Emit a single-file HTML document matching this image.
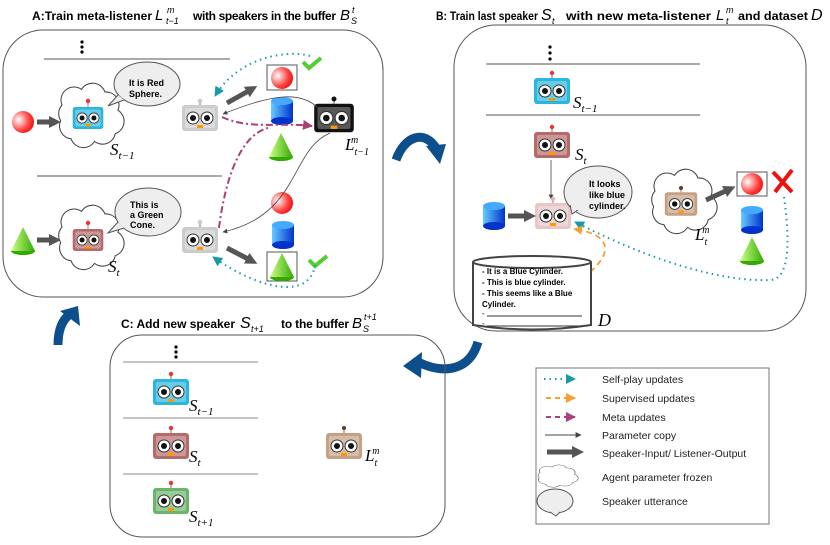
<!DOCTYPE html>
<html><head><meta charset="utf-8"><style>
html,body{margin:0;padding:0;background:#fff}
svg{display:block}
text{font-family:"Liberation Sans",sans-serif}
.m{font-family:"Liberation Serif",serif;font-style:italic}
.b{font-weight:bold}
</style></head><body>
<svg width="830" height="545" viewBox="0 0 830 545" xmlns="http://www.w3.org/2000/svg">
<defs>
<radialGradient id="gs" cx="0.3" cy="0.4" r="0.8"><stop offset="0" stop-color="#fff"/><stop offset="0.6" stop-color="#f44"/><stop offset="1" stop-color="#e00"/></radialGradient>
<linearGradient id="gc" x1="0" x2="1"><stop offset="0" stop-color="#6cf"/><stop offset="1" stop-color="#03c"/></linearGradient>
<linearGradient id="gn" x1="0" x2="1"><stop offset="0" stop-color="#cf8"/><stop offset="1" stop-color="#3a0"/></linearGradient>
<g id="robot">
<line x1="0" y1="-13" x2="0" y2="-18" stroke="#888" stroke-width="1.2"/>
<rect x="-18" y="-13" width="36" height="26" rx="3" fill="currentColor"/>
<rect x="-15" y="-10" width="30" height="20" rx="2" fill="#fff" opacity="0.3"/>
<circle cx="-7" cy="0" r="6" fill="#fff" stroke="#333" stroke-width="1"/>
<circle cx="7" cy="0" r="6" fill="#fff" stroke="#333" stroke-width="1"/>
<circle cx="-7" cy="0" r="3" fill="#111"/><circle cx="7" cy="0" r="3" fill="#111"/>
<rect x="-3" y="7" width="6" height="3" fill="#f90"/>
</g>
<path id="cloud" d="M -20,-10 a10,10 0 0 1 15,-12 a10,10 0 0 1 18,2 a10,10 0 0 1 10,14 a10,10 0 0 1 -2,18 a10,10 0 0 1 -16,6 a10,10 0 0 1 -18,-2 a10,10 0 0 1 -8,-14 a10,10 0 0 1 1,-12 z" fill="#fff" stroke="#444" stroke-width="0.8"/>
<g id="sph"><circle r="11" fill="url(#gs)"/></g>
<g id="cyl"><rect x="-11" y="-9" width="22" height="20" fill="url(#gc)"/><ellipse cx="0" cy="11" rx="11" ry="4" fill="#03c"/><ellipse cx="0" cy="-9" rx="11" ry="4" fill="#4af"/></g>
<g id="cone"><ellipse cx="0" cy="11" rx="12" ry="4" fill="#3a0"/><path d="M0,-13 L-12,11 L12,11 Z" fill="url(#gn)"/></g>
<marker id="ha" viewBox="0 0 10 10" refX="9" refY="5" markerWidth="6" markerHeight="6" orient="auto"><path d="M0,0 L10,5 L0,10 z" fill="#444"/></marker>
<marker id="hc" viewBox="0 0 10 10" refX="9" refY="5" markerWidth="5" markerHeight="5" orient="auto"><path d="M0,0 L10,5 L0,10 z" fill="#1a9aa8"/></marker>
<marker id="hm" viewBox="0 0 10 10" refX="9" refY="5" markerWidth="5" markerHeight="5" orient="auto"><path d="M0,0 L10,5 L0,10 z" fill="#a8407a"/></marker>
<marker id="ho" viewBox="0 0 10 10" refX="9" refY="5" markerWidth="5" markerHeight="5" orient="auto"><path d="M0,0 L10,5 L0,10 z" fill="#f5a030"/></marker>
<marker id="hb" viewBox="0 0 10 10" refX="5" refY="5" markerWidth="2.4" markerHeight="2.4" orient="auto"><path d="M0,0 L10,5 L0,10 z" fill="#555"/></marker>
</defs>

<!-- Titles -->
<g font-size="12" class="b">
<text x="32" y="20" textLength="120" lengthAdjust="spacing">A:Train meta-listener</text>
<text x="193" y="20" textLength="143" lengthAdjust="spacing">with speakers in the buffer</text>
<text x="436" y="20" textLength="102" lengthAdjust="spacingAndGlyphs">B: Train last speaker</text>
<text x="566" y="20" textLength="145" lengthAdjust="spacingAndGlyphs">with new meta-listener</text>
<text x="738" y="20" textLength="70" lengthAdjust="spacingAndGlyphs">and dataset</text>
<text x="121" y="328" textLength="114" lengthAdjust="spacing">C: Add new speaker</text>
<text x="281" y="328" textLength="68" lengthAdjust="spacing">to the buffer</text>
</g>
<g class="m">
<text x="155" y="20" font-size="15">L</text><text x="166" y="24" font-size="9">t−1</text><text x="167" y="13" font-size="9">m</text>
<text x="340" y="20" font-size="15">B</text><text x="351" y="24" font-size="9">S</text><text x="352" y="13" font-size="9">t</text>
<text x="541" y="20" font-size="16">S</text><text x="552" y="24" font-size="9">t</text>
<text x="716" y="20" font-size="15">L</text><text x="726" y="24" font-size="9">t</text><text x="726" y="13" font-size="9">m</text>
<text x="811" y="20" font-size="16">D</text>
<text x="240" y="328" font-size="16">S</text><text x="251" y="332" font-size="9">t+1</text>
<text x="352" y="328" font-size="15">B</text><text x="363" y="332" font-size="9">S</text><text x="364" y="320" font-size="9">t+1</text>
</g>

<!-- Panel A -->
<rect x="3" y="30" width="380" height="267" rx="40" fill="none" stroke="#555" stroke-width="1"/>
<circle cx="82" cy="42" r="1.6"/><circle cx="82" cy="47" r="1.6"/><circle cx="82" cy="52" r="1.6"/>
<line x1="44" y1="59" x2="230" y2="59" stroke="#555"/>
<line x1="37" y1="176" x2="222" y2="176" stroke="#555"/>
<use href="#sph" x="23" y="122"/>
<line x1="37" y1="122" x2="55" y2="122" stroke="#555" stroke-width="5" marker-end="url(#hb)"/>
<use href="#cloud" transform="translate(88,118) scale(1.3)"/>
<use href="#robot" transform="translate(88,118) scale(0.85)" style="color:#29b6e0"/>
<circle cx="88" cy="101" r="2.2" fill="#e33"/>
<text x="110" y="155" class="m" font-size="17">S<tspan font-size="11" dy="4">t−1</tspan></text>
<ellipse cx="147" cy="84" rx="33" ry="22" fill="#eee" stroke="#555"/>
<path d="M118,95 L108,106 L124,100" fill="#eee" stroke="#555"/>
<text x="129" y="86" font-size="9" class="b" font-family="Liberation Serif">It is Red</text>
<text x="129" y="97" font-size="9" class="b" font-family="Liberation Serif">Sphere.</text>
<use href="#robot" transform="translate(200,118)" style="color:#ccc"/>
<circle cx="200" cy="101" r="2.3" fill="#ccc"/>
<line x1="227" y1="103" x2="252" y2="89" stroke="#555" stroke-width="5" marker-end="url(#hb)"/>
<rect x="267" y="65" width="30" height="25" fill="#fff" stroke="#555"/>
<use href="#sph" x="282" y="78"/>
<path d="M303,62 l6,6 l12,-10" fill="none" stroke="#5c3" stroke-width="4"/>
<use href="#cyl" x="282" y="110"/>
<use href="#cone" x="281" y="146"/>
<use href="#robot" transform="translate(334,118) scale(1.1)" style="color:#111"/>
<circle cx="334" cy="99" r="2.5" fill="#111"/>
<text x="345" y="150" class="m" font-size="17">L<tspan font-size="10" dy="5">t−1</tspan><tspan font-size="10" dy="-12" dx="-18">m</tspan></text>
<path d="M310,56 C290,50 240,55 215,96" fill="none" stroke="#1a9aa8" stroke-width="2" stroke-dasharray="1.5,4" marker-end="url(#hc)"/>
<path d="M318,108 C300,90 270,95 223,114" fill="none" stroke="#444" stroke-width="0.8" marker-end="url(#ha)"/>
<path d="M222,117 C250,130 280,122 312,126" fill="none" stroke="#a8407a" stroke-width="2" stroke-dasharray="7,3,2,3" marker-end="url(#hm)"/>
<use href="#cone" x="23" y="240"/>
<line x1="37" y1="240" x2="55" y2="240" stroke="#555" stroke-width="5" marker-end="url(#hb)"/>
<use href="#cloud" transform="translate(88,240) scale(1.3)"/>
<use href="#robot" transform="translate(88,240) scale(0.85)" style="color:#b66a6a"/>
<circle cx="88" cy="223" r="2.2" fill="#e33"/>
<text x="108" y="272" class="m" font-size="17">S<tspan font-size="11" dy="4">t</tspan></text>
<ellipse cx="148" cy="212" rx="33" ry="24" fill="#eee" stroke="#555"/>
<path d="M118,222 L108,233 L124,228" fill="#eee" stroke="#555"/>
<text x="130" y="208" font-size="9" class="b" font-family="Liberation Serif">This is</text>
<text x="130" y="218" font-size="9" class="b" font-family="Liberation Serif">a Green</text>
<text x="130" y="228" font-size="9" class="b" font-family="Liberation Serif">Cone.</text>
<use href="#robot" transform="translate(200,240)" style="color:#ccc"/>
<circle cx="200" cy="222" r="2.3" fill="#ccc"/>
<line x1="227" y1="248" x2="252" y2="261" stroke="#555" stroke-width="5" marker-end="url(#hb)"/>
<use href="#sph" x="282" y="203"/>
<use href="#cyl" x="283" y="234"/>
<rect x="267" y="252" width="30" height="29" fill="#fff" stroke="#555"/>
<use href="#cone" x="282" y="266"/>
<path d="M309,260 l6,6 l12,-10" fill="none" stroke="#5c3" stroke-width="4"/>
<path d="M219,228 C225,180 240,135 268,128" fill="none" stroke="#a8407a" stroke-width="2" stroke-dasharray="7,3,2,3"/>
<path d="M330,133 C290,150 300,215 223,232" fill="none" stroke="#444" stroke-width="0.8" marker-end="url(#ha)"/>
<path d="M315,265 C310,300 260,290 213,257" fill="none" stroke="#1a9aa8" stroke-width="2" stroke-dasharray="1.5,4" marker-end="url(#hc)"/>

<!-- blue arrows -->
<path d="M396,160 C405,135 425,130 436,148" fill="none" stroke="#0d4f8c" stroke-width="9"/>
<path d="M426,146 L446,144 L440,164 Z" fill="#0d4f8c"/>
<path d="M478,342 C470,370 445,375 418,362" fill="none" stroke="#0d4f8c" stroke-width="9"/>
<path d="M422,352 L403,366 L421,378 Z" fill="#0d4f8c"/>
<path d="M58,345 C58,330 62,320 70,314" fill="none" stroke="#0d4f8c" stroke-width="9"/>
<path d="M60,311 L78,306 L80,326 Z" fill="#0d4f8c"/>

<!-- Panel B -->
<rect x="454" y="25" width="352" height="306" rx="42" fill="none" stroke="#555"/>
<circle cx="550" cy="47" r="1.6"/><circle cx="550" cy="53" r="1.6"/><circle cx="550" cy="59" r="1.6"/>
<line x1="486" y1="64" x2="700" y2="64" stroke="#555"/>
<use href="#robot" transform="translate(552,91)" style="color:#29b6e0"/>
<circle cx="552" cy="73" r="2.2" fill="#e33"/>
<text x="573" y="108" class="m" font-size="17">S<tspan font-size="11" dy="4">t−1</tspan></text>
<line x1="486" y1="115" x2="700" y2="115" stroke="#555"/>
<use href="#robot" transform="translate(552,145)" style="color:#b66a6a"/>
<circle cx="552" cy="127" r="2.2" fill="#e33"/>
<text x="575" y="160" class="m" font-size="17">S<tspan font-size="11" dy="4">t</tspan></text>
<line x1="551" y1="160" x2="551" y2="199" stroke="#444" stroke-width="0.8" marker-end="url(#ha)"/>
<use href="#robot" transform="translate(553,216)" style="color:#e6c6c6"/>
<circle cx="553" cy="199" r="2.2" fill="#f0b0b0"/>
<use href="#cyl" x="494" y="215"/>
<line x1="508" y1="216" x2="530" y2="216" stroke="#555" stroke-width="5" marker-end="url(#hb)"/>
<ellipse cx="598" cy="192" rx="34" ry="26" fill="#eee" stroke="#555"/>
<path d="M570,205 L572,214 L578,210" fill="#eee" stroke="#555"/>
<text x="589" y="187" font-size="9" class="b" font-family="Liberation Serif">It looks</text>
<text x="589" y="198" font-size="9" class="b" font-family="Liberation Serif">like blue</text>
<text x="589" y="209" font-size="9" class="b" font-family="Liberation Serif">cylinder.</text>
<use href="#cloud" transform="translate(681,204) scale(1.3)"/>
<use href="#robot" transform="translate(681,204) scale(0.9)" style="color:#c4a184"/>
<circle cx="681" cy="188" r="2" fill="#5a3a2a"/>
<text x="695" y="240" class="m" font-size="17">L<tspan font-size="10" dy="5">t</tspan><tspan font-size="10" dy="-12" dx="-5">m</tspan></text>
<line x1="706" y1="200" x2="730" y2="189" stroke="#555" stroke-width="5" marker-end="url(#hb)"/>
<rect x="737" y="172" width="30" height="24" fill="#fff" stroke="#555"/>
<use href="#sph" x="752" y="184"/>
<path d="M773,172 L792,192 M792,170 L775,192" stroke="#e11" stroke-width="4"/>
<use href="#cyl" x="752" y="219"/>
<use href="#cone" x="752" y="250"/>
<path d="M784,197 C790,240 790,280 770,280 C720,282 650,260 575,222" fill="none" stroke="#1a9aa8" stroke-width="2" stroke-dasharray="1.5,4" marker-end="url(#hc)"/>
<path d="M590,272 C610,255 615,235 574,229" fill="none" stroke="#f5a030" stroke-width="1.8" stroke-dasharray="6,4" marker-end="url(#ho)"/>
<path d="M473,262 L473,325 Q532,334 591,325 L591,262" fill="#fff" stroke="#444" stroke-width="2"/>
<ellipse cx="532" cy="262" rx="59" ry="6" fill="#fff" stroke="#444" stroke-width="2"/>
<text x="482" y="274" font-size="8" class="b">- It is a Blue Cylinder.</text>
<text x="482" y="285" font-size="8" class="b">- This is blue cylinder.</text>
<text x="482" y="296" font-size="8" class="b">- This seems like a Blue</text>
<text x="482" y="307" font-size="8" class="b">Cylinder.</text>
<text x="482" y="316" font-size="8">-</text><line x1="487" y1="316" x2="582" y2="316" stroke="#333"/>
<text x="482" y="326" font-size="8">-</text><line x1="487" y1="326" x2="582" y2="326" stroke="#333"/>
<text x="598" y="326" class="m" font-size="18">D</text>

<!-- Panel C -->
<rect x="110" y="335" width="335" height="202" rx="32" fill="none" stroke="#555"/>
<circle cx="176" cy="347" r="1.6"/><circle cx="176" cy="352" r="1.6"/><circle cx="176" cy="357" r="1.6"/>
<line x1="123" y1="362" x2="258" y2="362" stroke="#888"/>
<use href="#robot" transform="translate(171,392)" style="color:#29b6e0"/>
<circle cx="171" cy="374" r="2.2" fill="#e33"/>
<text x="189" y="411" class="m" font-size="17">S<tspan font-size="11" dy="4">t−1</tspan></text>
<line x1="123" y1="418" x2="258" y2="418" stroke="#888"/>
<use href="#robot" transform="translate(171,446)" style="color:#b66a6a"/>
<circle cx="171" cy="428" r="2.2" fill="#e33"/>
<text x="189" y="462" class="m" font-size="17">S<tspan font-size="11" dy="4">t</tspan></text>
<line x1="123" y1="474" x2="258" y2="474" stroke="#888"/>
<use href="#robot" transform="translate(171,501)" style="color:#6ab56a"/>
<circle cx="171" cy="483" r="2.2" fill="#e33"/>
<text x="189" y="522" class="m" font-size="17">S<tspan font-size="11" dy="4">t+1</tspan></text>
<use href="#robot" transform="translate(344,446)" style="color:#c4a184"/>
<circle cx="344" cy="428" r="2" fill="#5a3a2a"/>
<text x="365" y="461" class="m" font-size="17">L<tspan font-size="10" dy="5">t</tspan><tspan font-size="10" dy="-12" dx="-5">m</tspan></text>

<!-- Legend -->
<rect x="536" y="368" width="233" height="156" fill="#fff" stroke="#777"/>
<g font-size="10.5" fill="#222">
<line x1="544" y1="379" x2="575" y2="379" stroke="#1a9aa8" stroke-width="2" stroke-dasharray="1.5,4" marker-end="url(#hc)"/>
<text x="602" y="383">Self-play updates</text>
<line x1="546" y1="398" x2="575" y2="398" stroke="#f5a030" stroke-width="2" stroke-dasharray="5,4" marker-end="url(#ho)"/>
<text x="602" y="402">Supervised updates</text>
<line x1="546" y1="417" x2="575" y2="417" stroke="#a8407a" stroke-width="2" stroke-dasharray="5,4" marker-end="url(#hm)"/>
<text x="602" y="421">Meta updates</text>
<line x1="545" y1="435" x2="581" y2="435" stroke="#444" stroke-width="1" marker-end="url(#ha)"/>
<text x="602" y="439">Parameter copy</text>
<line x1="547" y1="452" x2="578" y2="452" stroke="#555" stroke-width="5" marker-end="url(#hb)"/>
<text x="602" y="457">Speaker-Input/ Listener-Output</text>
<use href="#cloud" transform="translate(556,477) scale(0.8,0.45)"/>
<text x="602" y="481">Agent parameter frozen</text>
<ellipse cx="555" cy="501" rx="18" ry="12" fill="#eee" stroke="#555"/>
<path d="M550,512 L556,516 L560,512" fill="#eee" stroke="#555"/>
<text x="602" y="505">Speaker utterance</text>
</g>
</svg>
</body></html>
